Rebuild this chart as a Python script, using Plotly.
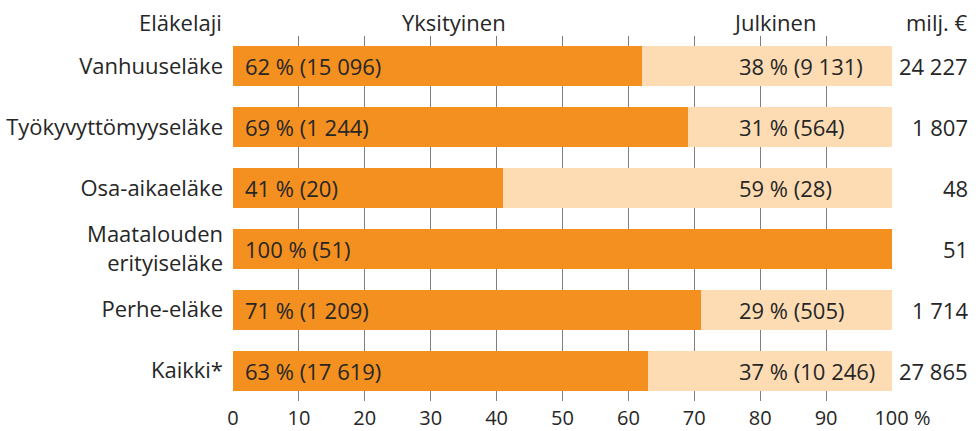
import plotly.graph_objects as go

categories = ["Vanhuuseläke", "Työkyvyttömyyseläke", "Osa-aikaeläke",
              "Maatalouden<br>erityiseläke", "Perhe-eläke", "Kaikki*"]
private_pct = [62, 69, 41, 100, 71, 63]
public_pct = [38, 31, 59, 0, 29, 37]
private_eur = ["15 096", "1 244", "20", "51", "1 209", "17 619"]
public_eur = ["9 131", "564", "28", "", "505", "10 246"]
totals = ["24 227", "1 807", "48", "51", "1 714", "27 865"]
tick_vals = [0, 10, 20, 30, 40, 50, 60, 70, 80, 90, 100]
tick_text = ["0", "10", "20", "30", "40", "50", "60", "70", "80", "90",
             "\u00a0\u00a0\u00a0\u00a0100 %"]

FONT = "Open Sans"
FS = 22
TXT = "#262626"
DARK = "#F39020"
LIGHT = "#FDDCB4"
PUB_LABEL_X = 76.5  # public labels start here (data units)

priv_text = [f"{p} % ({e})" for p, e in zip(private_pct, private_eur)]
pub_text = [f"{p} % ({e})" if p > 0 else "" for p, e in zip(public_pct, public_eur)]

fig = go.Figure()
fig.add_trace(go.Bar(
    y=categories, x=private_pct, orientation="h", marker=dict(color=DARK, line=dict(width=0)),
    width=0.66, name="Yksityinen", hoverinfo="skip",
))
fig.add_trace(go.Bar(
    y=categories, x=public_pct, orientation="h", marker=dict(color=LIGHT, line=dict(width=0)),
    width=0.66, name="Julkinen", hoverinfo="skip",
))

for c, t in zip(categories, priv_text):
    fig.add_annotation(x=0, xref="x", y=c, yref="y", text=t, showarrow=False,
                       xanchor="left", xshift=10, font=dict(family=FONT, size=FS, color=TXT))
for c, t in zip(categories, pub_text):
    if t:
        fig.add_annotation(x=PUB_LABEL_X, xref="x", y=c, yref="y", text=t, showarrow=False,
                           xanchor="left", xshift=0, font=dict(family=FONT, size=FS, color=TXT))
for c, t in zip(categories, totals):
    fig.add_annotation(x=1, xref="paper", y=c, yref="y", text=t, showarrow=False,
                       xanchor="right", xshift=78, font=dict(family=FONT, size=FS, color=TXT))

headers = [("Yksityinen", 33.5, "x", "center", 0),
           ("Julkinen", 82.1, "x", "center", 0),
           ("milj. €", 1, "paper", "right", 78),
           ("Eläkelaji", 0, "paper", "right", -9)]
for txt, xv, xr, anc, sh in headers:
    fig.add_annotation(x=xv, xref=xr, y=1, yref="paper", yanchor="middle", yshift=14,
                       text=txt, showarrow=False, xanchor=anc, xshift=sh,
                       font=dict(family=FONT, size=FS, color=TXT))

fig.update_layout(
    barmode="stack", width=976, height=431, showlegend=False,
    margin=dict(l=233, r=84, t=36, b=30, autoexpand=False),
    plot_bgcolor="white", paper_bgcolor="white",
    font=dict(family=FONT, size=FS, color=TXT),
    xaxis=dict(range=[0, 100], tickvals=tick_vals, ticktext=tick_text, showgrid=True,
               gridcolor="#7F7F7F", gridwidth=1, ticks="", ticklabelstandoff=3,
               zeroline=False, showline=False, fixedrange=True, automargin=False,
               tickfont=dict(family=FONT, size=20, color=TXT)),
    yaxis=dict(autorange="reversed", showgrid=False, ticks="", ticklabelstandoff=9,
               fixedrange=True, automargin=False,
               tickfont=dict(family=FONT, size=FS, color=TXT)),
)

fig.write_html("out.html", config={"displayModeBar": False},
               post_script="document.body.style.margin='0';document.body.style.overflow='hidden';")
